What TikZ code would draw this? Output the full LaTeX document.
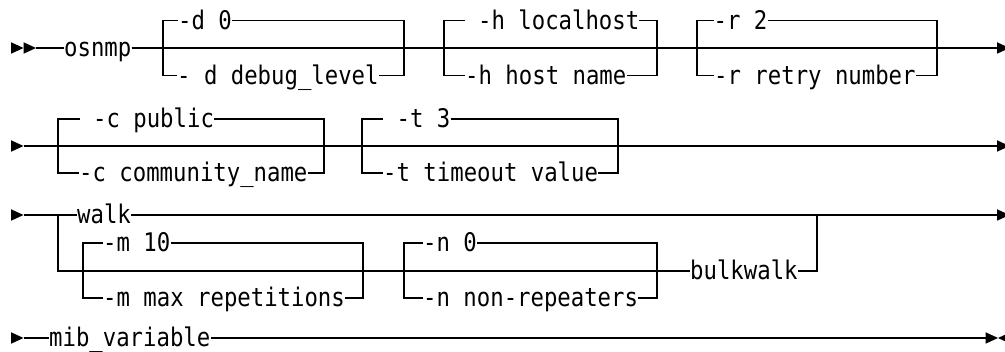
\documentclass[tikz,border=0pt]{standalone}
\usepackage{graphicx}
\usepackage{fontspec}
\newfontfamily\diagfont{DejaVu Sans Mono}
\newcommand\railtxt[1]{\scalebox{1}[1.15]{#1}}
\begin{document}
\begin{tikzpicture}[x=1pt,y=-1pt,
  rr/.style={line width=1.4pt, line join=miter},
  lbl/.style={inner xsep=0pt, inner ysep=0pt, text height=18pt, text depth=0pt,
    anchor=west, font={\diagfont\fontsize{22.3pt}{26pt}\selectfont}},
  tri/.style={fill=black, draw=none}]
\useasboundingbox (0,0) rectangle (1005,352);

% ---------- Row 1 ----------
\fill[tri] (11,42.25) -- (23.5,48) -- (11,53.75) -- cycle;
\fill[tri] (23.5,42.25) -- (36,48) -- (23.5,53.75) -- cycle;
\coordinate (r1s) at (36,48);
\coordinate (r1e) at (997,48);
\fill[tri] (997,42.25) -- (1009.5,48) -- (997,53.75) -- cycle;
\node[lbl] (osnmp) at (64,48) {\railtxt{osnmp}};
\draw[rr] (r1s) -- (osnmp);
\draw[rr] (osnmp) -- (r1e);
% -d bracket
\coordinate (dTL) at (163,20.5); \coordinate (dBL) at (163,75.5);
\coordinate (dTR) at (404,20.5); \coordinate (dBR) at (404,75.5);
\node[lbl] (d0) at (178,20.5) {\railtxt{-d 0}};
\node[lbl] (ddl) at (177,75.5) {\railtxt{- d debug\_level}};
\draw[rr] (d0) -- (dTL) -- (dBL) -- (ddl);
\draw[rr] (d0) -- (dTR) -- (dBR) -- (ddl);
% -h bracket
\coordinate (hTL) at (444,20.5); \coordinate (hBL) at (444,75.5);
\coordinate (hTR) at (657,20.5); \coordinate (hBR) at (657,75.5);
\node[lbl] (hl) at (464.5,20.5) {\railtxt{~-h localhost}};
\node[lbl] (hh) at (465,75.5) {\railtxt{-h host name}};
\draw[rr] (hl) -- (hTL) -- (hBL) -- (hh);
\draw[rr] (hl) -- (hTR) -- (hBR) -- (hh);
% -r bracket
\coordinate (rTL) at (697,20.5); \coordinate (rBL) at (697,75.5);
\coordinate (rTR) at (937,20.5); \coordinate (rBR) at (937,75.5);
\node[lbl] (r2) at (713.5,20.5) {\railtxt{-r 2}};
\node[lbl] (rn) at (714,75.5) {\railtxt{-r retry number}};
\draw[rr] (r2) -- (rTL) -- (rBL) -- (rn);
\draw[rr] (r2) -- (rTR) -- (rBR) -- (rn);

% ---------- Row 2 ----------
\fill[tri] (11,140.25) -- (23.5,146) -- (11,151.75) -- cycle;
\coordinate (r2s) at (23.5,146);
\coordinate (r2e) at (997,146);
\fill[tri] (997,140.25) -- (1009.5,146) -- (997,151.75) -- cycle;
\draw[rr] (r2s) -- (r2e);
% -c bracket
\coordinate (cTL) at (58,119); \coordinate (cBL) at (58,173);
\coordinate (cTR) at (324,119); \coordinate (cBR) at (324,173);
\node[lbl] (cp) at (79.5,119) {\railtxt{~-c public}};
\node[lbl] (cc) at (79,173) {\railtxt{-c community\_name}};
\draw[rr] (cp) -- (cTL) -- (cBL) -- (cc);
\draw[rr] (cp) -- (cTR) -- (cBR) -- (cc);
% -t bracket
\coordinate (tTL) at (362,119); \coordinate (tBL) at (362,173);
\coordinate (tTR) at (618,119); \coordinate (tBR) at (618,173);
\node[lbl] (t3) at (383,119) {\railtxt{~-t 3}};
\node[lbl] (tt) at (383,173) {\railtxt{-t timeout value}};
\draw[rr] (t3) -- (tTL) -- (tBL) -- (tt);
\draw[rr] (t3) -- (tTR) -- (tBR) -- (tt);

% ---------- Row 3 ----------
\fill[tri] (11,209.25) -- (23.5,215) -- (11,220.75) -- cycle;
\coordinate (r3s) at (23.5,215);
\coordinate (r3e) at (997,215);
\fill[tri] (997,209.25) -- (1009.5,215) -- (997,220.75) -- cycle;
\coordinate (wL) at (58,215);
\coordinate (wR) at (817,215);
\coordinate (bL) at (58,271);
\coordinate (bR) at (817,271);
\node[lbl] (walk) at (77,215) {\railtxt{walk}};
\draw[rr] (r3s) -- (walk);
\draw[rr] (walk) -- (r3e);
\node[lbl] (bulk) at (690,271) {\railtxt{bulkwalk}};
\draw[rr] (wL) -- (bL) -- (bulk);
\draw[rr] (bulk) -- (bR) -- (wR);
% -m bracket
\coordinate (mTL) at (83,243); \coordinate (mBL) at (83,298);
\coordinate (mTR) at (363,243); \coordinate (mBR) at (363,298);
\node[lbl] (m10) at (103,243) {\railtxt{-m 10}};
\node[lbl] (mmax) at (103,298) {\railtxt{-m max repetitions}};
\draw[rr] (m10) -- (mTL) -- (mBL) -- (mmax);
\draw[rr] (m10) -- (mTR) -- (mBR) -- (mmax);
% -n bracket
\coordinate (nTL) at (404,243); \coordinate (nBL) at (404,298);
\coordinate (nTR) at (657,243); \coordinate (nBR) at (657,298);
\node[lbl] (n0) at (423,243) {\railtxt{-n 0}};
\node[lbl] (nn) at (423,298) {\railtxt{-n non-repeaters}};
\draw[rr] (n0) -- (nTL) -- (nBL) -- (nn);
\draw[rr] (n0) -- (nTR) -- (nBR) -- (nn);

% ---------- Row 4 ----------
\fill[tri] (11,332.25) -- (23.5,338) -- (11,343.75) -- cycle;
\coordinate (r4s) at (23.5,338);
\coordinate (r4e) at (985.5,338);
\node[lbl] (mib) at (49,338) {\railtxt{mib\_variable}};
\draw[rr] (r4s) -- (mib);
\draw[rr] (mib) -- (r4e);
\fill[tri] (985.5,332.25) -- (998,338) -- (985.5,343.75) -- cycle;
\fill[tri] (1010.5,332.25) -- (998,338) -- (1010.5,343.75) -- cycle;
\end{tikzpicture}
\end{document}
